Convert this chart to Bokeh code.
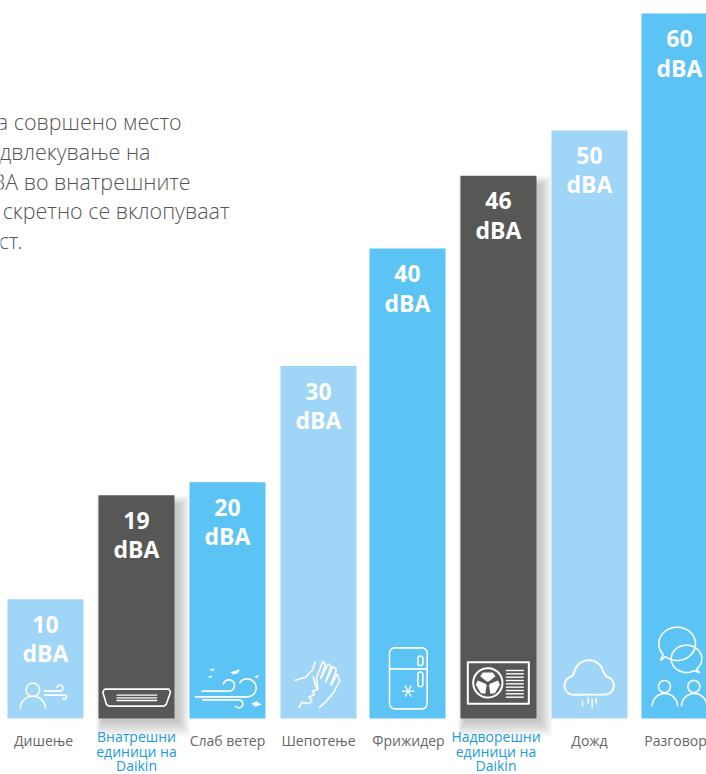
import numpy as np
from bokeh.plotting import figure
from bokeh.models import ColumnDataSource, Range1d
from bokeh.core.properties import value
from bokeh.embed import file_html
from bokeh.resources import INLINE

# ---- data
categories = ["Дишење", "Внатрешни\nединици на\nDaikin", "Слаб ветер", "Шепотење",
              "Фрижидер", "Надворешни\nединици на\nDaikin", "Дожд", "Разговор"]
dba = [10.15, 19.0, 20.1, 30.0, 40.0, 46.2, 50.05, 60.0]
value_labels = ["10", "19", "20", "30", "40", "46", "50", "60"]
unit_label = "dBA"
paragraph = ["а совршено место", "двлекување на", "ВА во внатрешните", "скретно се вклопуваат", "ст."]

LIGHT, MID, DARK = "#9fd5f7", "#5bc4f4", "#575756"
bar_colors = [LIGHT, DARK, MID, LIGHT, MID, DARK, LIGHT, MID]
label_colors = ["#666666", "#1b9ad9", "#666666", "#666666", "#666666", "#1b9ad9", "#666666", "#666666"]
bar_left = [7, 98, 189, 280, 369, 460, 551, 641]
label_x = [43, 136, 227, 318, 408, 495.5, 589, 675]
BAR_W = 76
W, H = 706, 774
ZERO_PX, PX_PER_DB = 718, 11.75

p = figure(width=W, height=H, output_backend="svg", toolbar_location=None, min_border=0,
           x_range=Range1d(0, W),
           y_range=Range1d((ZERO_PX - H) / PX_PER_DB, ZERO_PX / PX_PER_DB))
p.extra_y_ranges = {"px": Range1d(H, 0)}
p.axis.visible = False
p.grid.visible = False
p.outline_line_color = None
p.background_fill_color = "white"
p.border_fill_color = "white"

PX = dict(y_range_name="px")

# shadows of the dark bars
for i, v in enumerate(dba):
    if bar_colors[i] != DARK:
        continue
    for k in range(16, 0, -2):
        d = k / PX_PER_DB
        p.quad(left=[bar_left[i] + 4 - k * 0.4], right=[bar_left[i] + BAR_W + 3 + k * 0.8],
               top=[v - 10 / PX_PER_DB + d * 0.6], bottom=[-(k + 2) / PX_PER_DB],
               fill_color="#000000", fill_alpha=0.028, line_color=None)

# bars
src = ColumnDataSource(dict(left=bar_left, right=[b + BAR_W for b in bar_left], top=dba,
                            bottom=[0] * len(dba), color=bar_colors, val=value_labels,
                            unit=[unit_label] * len(dba),
                            cx=[b + BAR_W / 2 for b in bar_left]))
p.quad(left="left", right="right", top="top", bottom="bottom", fill_color="color",
       line_color=None, source=src)
p.text(x="cx", y="top", text="val", source=src, text_color="white", text_align="center",
       text_baseline="middle", y_offset=25, text_font=value("Open Sans"), text_font_style="bold",
       text_font_size="23px")
p.text(x="cx", y="top", text="unit", source=src, text_color="white", text_align="center",
       text_baseline="middle", y_offset=54, text_font=value("Open Sans"), text_font_style="bold",
       text_font_size="23px")

# category labels
lx, ly, lt, lc = [], [], [], []
for i, c in enumerate(categories):
    parts = c.split("\n")
    base = 740 if len(parts) == 1 else 736
    for j, s in enumerate(parts):
        lx.append(label_x[i]); ly.append(base + j * 14.5); lt.append(s); lc.append(label_colors[i])
p.text(x=lx, y=ly, text=lt, text_color=lc, text_align="center", text_baseline="middle",
       text_font=value("Open Sans"), text_font_size="14px", **PX)

# paragraph, cut off by the left edge
p.text(x=[181, 150, 190, 229, 22], y=[121, 151, 181, 210, 240], text=paragraph, text_color="#555555",
       text_align="right", text_baseline="middle", text_font=value("Open Sans Light"),
       text_font_size="21.5px", **PX)

# ---- icons (pen strokes, coordinates in the 3x reference crop space)
def arc(cx, cy, rx, a0, a1, ry=None, n=40):
    ry = rx if ry is None else ry
    t = np.radians(np.linspace(a0, a1, n))
    return list(cx + rx * np.cos(t)), list(cy - ry * np.sin(t))

strokes, fills = [], []
def add(ox, x, y, w=1.6, c="white"):
    strokes.append(([ox + a / 3 for a in x], [590 + b / 3 for b in y], w, c))
def poly(ox, pts, w=1.6, c="white"):
    add(ox, [a for a, _ in pts], [b for _, b in pts], w, c)
def fill(ox, pts, c="white"):
    fills.append(([ox + a / 3 for a, _ in pts], [590 + b / 3 for _, b in pts], c))
def rrect(ox, x0, y0, x1, y1, r, w=1.6):
    xs, ys = [], []
    for cx, cy, a in [(x1 - r, y0 + r, 0), (x0 + r, y0 + r, 90), (x0 + r, y1 - r, 180), (x1 - r, y1 - r, 270)]:
        ax, ay = arc(cx, cy, r, a, a + 90, n=8)
        xs += ax; ys += ay
    add(ox, xs + xs[:1], ys + ys[:1], w)

# breathing
add(0, *arc(97, 298, 20, 0, 360))
add(0, *arc(97, 355, 38, 0, 180))
a = arc(178, 293, 9, -90, 180)
add(0, [130] + a[0], [302] + a[1])
b = arc(192, 320, 6, 90, -170)
add(0, [130] + b[0], [314] + b[1])

# indoor unit
poly(0, [(312, 296), (505, 296), (510, 305), (497, 342), (490, 347), (325, 347), (318, 342), (307, 305), (312, 296)])
for y in (314, 322, 330):
    poly(0, [(348, y), (470, y)], 1.4)

# wind
a = arc(685, 285, 17, -90, 170)
add(0, [603] + a[0], [302] + a[1])
b = arc(740, 292, 27, -90, 150)
add(0, [583] + b[0], [319] + b[1])
c = arc(715, 340, 12, 90, -150)
add(0, [605] + c[0], [328] + c[1])
for pts in ([(690, 245), (718, 236), (712, 248), (698, 252)],
            [(626, 236), (644, 234), (636, 242)],
            [(620, 260), (636, 254), (632, 262)],
            [(760, 258), (775, 253), (771, 264)],
            [(752, 340), (768, 332), (783, 342), (765, 349)]):
    fill(0, pts)

# whisper
poly(0, [(945, 213), (935, 240), (915, 260), (882, 270)])
poly(0, [(938, 258), (945, 285), (952, 296), (935, 303), (942, 312), (925, 320), (935, 330), (925, 340), (905, 335), (895, 352)])
poly(0, [(955, 352), (975, 335), (1000, 305), (1018, 270), (1010, 250), (992, 285)])
poly(0, [(990, 285), (1008, 238), (998, 228), (975, 275)])
poly(0, [(975, 275), (992, 228), (983, 220), (960, 265)])
poly(0, [(960, 265), (975, 222), (967, 212), (948, 262), (952, 295)])

# fridge
rrect(360, 87, 172, 200, 355, 16)
poly(360, [(87, 235), (200, 235)])
rrect(360, 172, 197, 187, 225, 6)
rrect(360, 172, 245, 187, 288, 6)
for ang in (0, 60, 120):
    dx, dy = 19 * np.cos(np.radians(ang)), 19 * np.sin(np.radians(ang))
    poly(360, [(143 - dx, 302 - dy), (143 + dx, 302 + dy)], 1.3)

# outdoor unit
rrect(360, 322, 215, 505, 340, 1, 2.0)
add(360, *arc(382, 277, 44, 0, 360), 2.0)
for deg in (0, 120, 240):
    t = np.radians(deg)
    pts = []
    for px_, py_ in [(-3, -6), (-23, -22), (-15, -33), (15, -33), (23, -22), (3, -6)]:
        pts.append((382 + px_ * np.cos(t) - py_ * np.sin(t), 279 + px_ * np.sin(t) + py_ * np.cos(t)))
    fill(360, pts)
for y in range(240, 322, 10):
    poly(360, [(436, y), (490, y)], 1.4)

# cloud
l = arc(640, 285, 28, 270, 100)
t = arc(685, 253, 44, 168, 12)
r = arc(733, 285, 27, 80, -90)
add(360, l[0] + t[0] + r[0] + [l[0][0]], l[1] + t[1] + r[1] + [l[1][0]], 2.0)
for x, y0, y1 in [(666, 330, 348), (683, 320, 340), (695, 325, 353), (707, 322, 340)]:
    poly(360, [(x, y0), (x, y1)], 1.5)

# conversation
a = arc(950, 160, 55, 230, 580, ry=50)
add(360, [900] + a[0] + [900], [210] + a[1] + [210])
b = arc(978, 205, 46, -50, 300, ry=41)
add(360, [1018] + b[0] + [1018], [247] + b[1] + [247])
add(360, *arc(912, 288, 18, 0, 360))
add(360, *arc(913, 347, 38, 0, 180))
add(360, *arc(1000, 288, 18, 0, 360))
add(360, *arc(1001, 347, 38, 0, 180))

p.multi_line(xs=[s[0] for s in strokes], ys=[s[1] for s in strokes],
             line_width=[s[2] for s in strokes], line_color=[s[3] for s in strokes], **PX)
p.patches(xs=[f[0] for f in fills], ys=[f[1] for f in fills], fill_color=[f[2] for f in fills],
          line_color=None, **PX)

open("out.html", "w").write(file_html(p, INLINE))
